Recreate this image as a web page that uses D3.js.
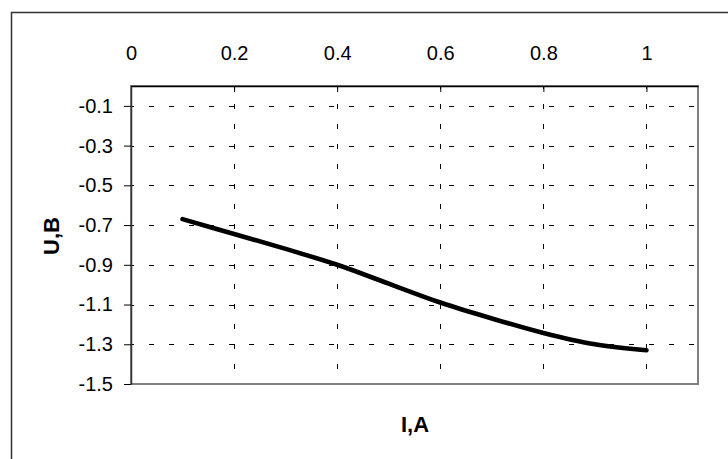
<!DOCTYPE html>
<html>
<head>
<meta charset="utf-8">
<script src="https://cdn.jsdelivr.net/npm/d3@7"></script>
<style>
  html, body { margin: 0; padding: 0; background: #fff; }
  svg { display: block; }
  text { font-family: "Liberation Sans", Arial, sans-serif; }
</style>
</head>
<body>
<div id="chart"></div>
<script>
// ---- data ----
const currentA = [0.1, 0.2, 0.3, 0.4, 0.5, 0.6, 0.7, 0.8, 0.9, 1.0];
const voltageB = [-0.67, -0.745, -0.82, -0.90, -0.995, -1.09, -1.17, -1.243, -1.30, -1.33];
const xTicks = [0, 0.2, 0.4, 0.6, 0.8, 1];
const yTicks = [-0.1, -0.3, -0.5, -0.7, -0.9, -1.1, -1.3, -1.5];
const xTitle = "I,A";
const yTitle = "U,B";

// ---- layout ----
const W = 728, H = 459;
const plot = { left: 131, top: 86, right: 698, bottom: 384 };

const svg = d3.select("#chart").append("svg").attr("width", W).attr("height", H);

// outer chart area border
svg.append("rect")
  .attr("x", 11.5).attr("y", 12.5).attr("width", 800).attr("height", 600)
  .attr("fill", "#fff").attr("stroke", "#333").attr("stroke-width", 1.5);

const x = d3.scaleLinear().domain([0, 1.1]).range([plot.left, plot.right]);
const y = d3.scaleLinear().domain([-1.5, 0]).range([plot.bottom, plot.top]);

// plot area border (gray)
svg.append("rect")
  .attr("x", plot.left).attr("y", plot.top)
  .attr("width", plot.right - plot.left).attr("height", plot.bottom - plot.top)
  .attr("fill", "#fff").attr("stroke", "#808080").attr("stroke-width", 2);

// gridlines
const grid = svg.append("g").attr("stroke", "#000").attr("stroke-width", 1)
  .attr("stroke-dasharray", "5,15").attr("stroke-dashoffset", 2);
grid.selectAll("line.h").data(yTicks.filter(v => v > -1.5)).join("line")
  .attr("class", "h")
  .attr("x1", plot.left).attr("x2", plot.right)
  .attr("y1", d => Math.round(y(d)) + 0.5).attr("y2", d => Math.round(y(d)) + 0.5);
grid.selectAll("line.v").data(xTicks.filter(v => v > 0)).join("line")
  .attr("class", "v")
  .attr("y1", plot.top).attr("y2", plot.bottom)
  .attr("x1", d => Math.round(x(d)) + 0.5).attr("x2", d => Math.round(x(d)) + 0.5);

const fmt = d => String(d);

// x axis on top
const xAxis = d3.axisTop(x).tickValues(xTicks).tickFormat(fmt).tickSizeInner(-6).tickSizeOuter(0).tickPadding(26);
const gx = svg.append("g").attr("transform", `translate(0,${plot.top})`).call(xAxis);
gx.select(".domain").attr("stroke", "#000").attr("stroke-width", 1.5);
gx.selectAll(".tick line").attr("stroke", "#000");
gx.selectAll("text").attr("font-size", 20).attr("fill", "#000").attr("font-family", "Liberation Sans, Arial, sans-serif");

// y axis on left
const yAxis = d3.axisLeft(y).tickValues(yTicks).tickFormat(fmt).tickSizeInner(7).tickSizeOuter(0).tickPadding(11);
const gy = svg.append("g").attr("transform", `translate(${plot.left},0)`).call(yAxis);
gy.select(".domain").attr("stroke", "#333").attr("stroke-width", 1.5);
gy.selectAll(".tick line").attr("stroke", "#000");
gy.selectAll("text").attr("font-size", 20).attr("fill", "#000").attr("font-family", "Liberation Sans, Arial, sans-serif");

// curve
const line = d3.line()
  .x((d, i) => x(currentA[i]))
  .y(d => y(d))
  .curve(d3.curveCatmullRom.alpha(0.5));
svg.append("path")
  .datum(voltageB)
  .attr("d", line)
  .attr("fill", "none").attr("stroke", "#000").attr("stroke-width", 4.6)
  .attr("stroke-linecap", "round").attr("stroke-linejoin", "round");

// axis titles
svg.append("text")
  .attr("x", 415).attr("y", 432)
  .attr("text-anchor", "middle").attr("font-size", 22).attr("font-weight", "bold")
  .text(xTitle);
svg.append("text")
  .attr("transform", "translate(59,236) rotate(-90)")
  .attr("text-anchor", "middle").attr("font-size", 22).attr("font-weight", "bold")
  .text(yTitle);
</script>
</body>
</html>
